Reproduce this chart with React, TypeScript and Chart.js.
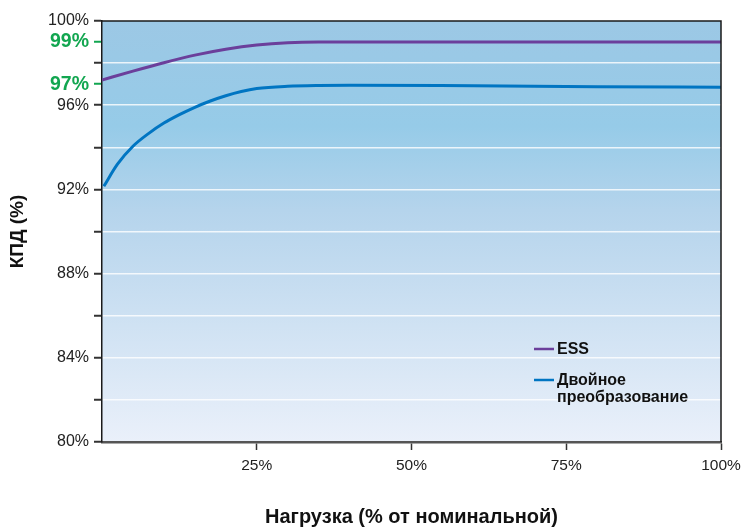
import React, { useEffect, useRef } from "react";
import { Chart, registerables } from "chart.js";

Chart.register(...registerables);

// ---- data ----
const essX = [0, 5, 10, 15, 20, 25, 30, 35, 45, 60, 80, 100];
const essY = [97.2, 97.62, 98.02, 98.38, 98.66, 98.86, 98.97, 99.0, 99.0, 99.0, 99.0, 99.0];

const dcX = [0.3, 2.5, 5, 7.5, 10, 12.5, 15, 17.5, 20, 22.5, 25, 30, 35, 40, 60, 80, 100];
const dcY = [92.15, 93.2, 94.05, 94.65, 95.15, 95.55, 95.9, 96.2, 96.45, 96.65, 96.79, 96.9, 96.94, 96.95, 96.92, 96.88, 96.85];

const seriesNames = ["ESS", "Двойное\nпреобразование"];

const yTickValues = [80, 82, 84, 86, 88, 90, 92, 94, 96, 97, 98, 99, 100];
const yTickLabels = ["80%", "", "84%", "", "88%", "", "92%", "", "96%", "97%", "", "99%", "100%"];
const yHighlighted = [97, 99];

const xTickValues = [0, 25, 50, 75, 100];
const xTickLabels = ["", "25%", "50%", "75%", "100%"];

const xTitle = "Нагрузка (% от номинальной)";
const yTitle = "КПД (%)";

const PURPLE = "#6b3f9b";
const BLUE = "#0075c2";
const GREEN = "#12a650";
const FONT = "'Liberation Sans', Arial, Helvetica, sans-serif";

const bgPlugin = {
  id: "bgGrad",
  beforeDraw(chart: any) {
    const { ctx, chartArea: a } = chart;
    if (!a) return;
    const g = ctx.createLinearGradient(0, a.top, 0, a.bottom);
    g.addColorStop(0, "#9cc8e5");
    g.addColorStop(0.25, "#96cbe8");
    g.addColorStop(0.45, "#b5d4ec");
    g.addColorStop(1, "#eaf0fa");
    ctx.save();
    ctx.fillStyle = g;
    ctx.fillRect(a.left, a.top, a.right - a.left, a.bottom - a.top);
    ctx.restore();
  },
  afterDatasetsDraw(chart: any) {
    const { ctx, chartArea: a } = chart;
    ctx.save();
    ctx.strokeStyle = "#1a1a1a";
    ctx.lineWidth = 1.5;
    ctx.beginPath();
    ctx.moveTo(a.left, a.top);
    ctx.lineTo(a.right, a.top);
    ctx.lineTo(a.right, a.bottom);
    ctx.stroke();

    // legend
    const colors = [PURPLE, BLUE];
    const rows = [a.top + 328, a.top + 359];
    const lx = a.right - 187;
    ctx.font = `bold 16px ${FONT}`;
    ctx.textBaseline = "middle";
    ctx.fillStyle = "#111";
    seriesNames.forEach((name, i) => {
      ctx.strokeStyle = colors[i];
      ctx.lineWidth = 2.5;
      ctx.beginPath();
      ctx.moveTo(lx, rows[i]);
      ctx.lineTo(lx + 20, rows[i]);
      ctx.stroke();
      name.split("\n").forEach((line, j) => {
        ctx.fillText(line, lx + 23, rows[i] + 1 + j * 17);
      });
    });
    ctx.restore();
  },
};

export default function App() {
  const ref = useRef<HTMLCanvasElement>(null);
  useEffect(() => {
    document.body.style.margin = "0";
    const c = new Chart(ref.current!, {
      type: "line",
      data: {
        datasets: [
          {
            label: "ESS",
            data: essX.map((x, i) => ({ x, y: essY[i] })),
            borderColor: PURPLE,
            borderWidth: 3,
            pointRadius: 0,
            cubicInterpolationMode: "monotone",
          },
          {
            label: "Двойное преобразование",
            data: dcX.map((x, i) => ({ x, y: dcY[i] })),
            borderColor: BLUE,
            borderWidth: 3,
            pointRadius: 0,
            cubicInterpolationMode: "monotone",
          },
        ],
      },
      options: {
        animation: false,
        responsive: false,
        layout: { padding: { left: 0, right: 27, top: 21, bottom: 0 } },
        plugins: { legend: { display: false }, tooltip: { enabled: false } },
        scales: {
          x: {
            type: "linear",
            min: 0,
            max: 100,
            afterBuildTicks: (s: any) => {
              s.ticks = xTickValues.map((v) => ({ value: v }));
            },
            afterFit: (s: any) => {
              s.height = 85;
            },
            ticks: {
              autoSkip: false,
              maxRotation: 0,
              padding: 6,
              color: "#222",
              font: { family: FONT, size: 15.5 },
              callback: (v: any) => xTickLabels[xTickValues.indexOf(Number(v))] ?? "",
            },
            grid: {
              drawOnChartArea: false,
              tickLength: 8,
              tickWidth: 1.5,
              tickColor: (ctx: any) => (ctx.tick && ctx.tick.value === 0 ? "transparent" : "#333"),
            },
            border: { display: true, color: "#555", width: 2.5 },
            title: {
              display: true,
              text: xTitle,
              color: "#111",
              font: { family: FONT, size: 20, weight: "bold", lineHeight: 1 },
              padding: { top: 0, bottom: 0 },
            },
          },
          y: {
            type: "linear",
            min: 80,
            max: 100,
            afterBuildTicks: (s: any) => {
              s.ticks = yTickValues.map((v) => ({ value: v }));
            },
            afterFit: (s: any) => {
              s.width = 102;
            },
            ticks: {
              autoSkip: false,
              padding: 5,
              color: (ctx: any) => (yHighlighted.includes(ctx.tick?.value) ? GREEN : "#222"),
              font: (ctx: any) =>
                yHighlighted.includes(ctx.tick?.value)
                  ? { family: FONT, size: 19.5, weight: "bold" }
                  : { family: FONT, size: 16 },
              callback: (v: any) => yTickLabels[yTickValues.indexOf(Number(v))] ?? "",
            },
            grid: {
              tickLength: 8,
              tickWidth: 2,
              lineWidth: 1.5,
              color: (ctx: any) => {
                const v = ctx.tick?.value;
                if (v === 80 || v === 100 || yHighlighted.includes(v)) return "transparent";
                return "rgba(255,255,255,0.8)";
              },
              tickColor: (ctx: any) => (yHighlighted.includes(ctx.tick?.value) ? GREEN : "#333"),
            },
            border: { display: true, color: "#1a1a1a", width: 1.5 },
            title: {
              display: true,
              text: yTitle,
              color: "#111",
              font: { family: FONT, size: 19, weight: "bold", lineHeight: 1 },
              padding: { top: 8, bottom: 0 },
            },
          },
        },
      },
      plugins: [bgPlugin],
    } as any);
    return () => c.destroy();
  }, []);
  return <canvas ref={ref} width={748} height={527} style={{ display: "block" }} />;
}
